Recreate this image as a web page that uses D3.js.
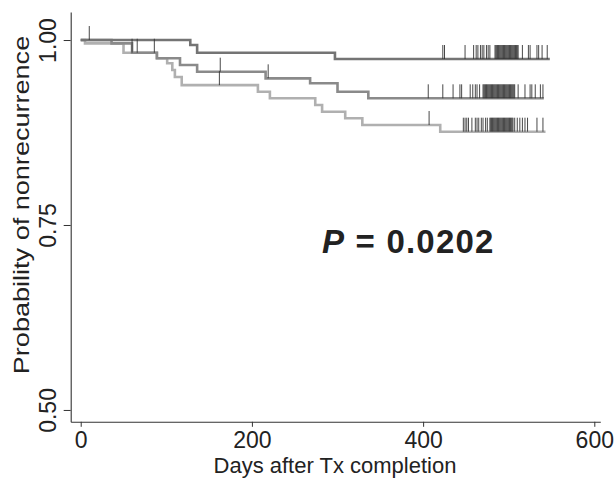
<!DOCTYPE html>
<html><head><meta charset="utf-8">
<script src="https://cdn.jsdelivr.net/npm/d3@7"></script>
<style>body{margin:0;background:#fff}svg{display:block}</style>
</head><body>
<svg id="c" width="615" height="481"></svg>
<script>
// ---- data (days, survival probability) ----
const xTicks = [0, 200, 400, 600];
const yTicks = [0.50, 0.75, 1.00];
const pLabel = "0.0202";

// step curves: event day -> survival after event
const topTimes = [0, 128, 136, 297];
const topSurv  = [1.0, 0.9932, 0.9828, 0.9743];
const topEnd = 548;

const midTimes = [0, 36, 60, 89, 116, 136, 216, 268, 300, 336];
const midSurv  = [1.0, 0.9955, 0.9828, 0.9753, 0.9662, 0.9572, 0.9482, 0.9415, 0.9301, 0.9212];
const midEnd = 541;

const lowTimes = [0, 5, 50, 89, 101, 107, 110, 118, 207, 221, 274, 282, 309, 329, 420];
const lowSurv  = [1.0, 0.9955, 0.9828, 0.9753, 0.9685, 0.9595, 0.9500, 0.9390, 0.9301, 0.9212, 0.9122, 0.9031, 0.8942, 0.8851, 0.8761];
const lowEnd = 543;

// censored observation days
const topCensor = [10, 423, 425, 449, 459, 462, 464, 467, 469, 471, 474, 476, 478,
  484, 485, 486, 487, 488, 489, 490, 491, 492, 493, 494, 495, 496, 497, 498, 499, 500,
  501, 502, 503, 504, 505, 506, 507, 508, 509, 510, 511, 516, 523, 525, 533, 535, 539, 545];
const midCensor = [60, 66, 86, 163, 219, 406, 423, 435, 443, 445, 455, 458, 461, 463, 466,
  470, 471, 472, 473, 474, 475, 476, 477, 478, 479, 480, 481, 482, 483, 484, 485, 486, 487,
  488, 489, 490, 491, 492, 493, 494, 495, 496, 497, 498, 499, 500, 501, 502, 503, 504, 505,
  506, 507, 511, 519, 525, 527, 531, 537, 540];
const lowCensor = [162, 407, 447, 449, 451, 453, 457, 461, 463, 465, 468, 470, 473, 475,
  478, 479, 480, 481, 482, 483, 484, 485, 486, 487, 488, 489, 490, 491, 492, 493, 494, 495,
  496, 497, 498, 499, 500, 501, 502, 503, 504, 505, 507, 510, 513, 516, 519, 522, 533, 540];

const series = [
  {times: lowTimes, surv: lowSurv, end: lowEnd, censor: lowCensor, color: "#b0b0b0"},
  {times: midTimes, surv: midSurv, end: midEnd, censor: midCensor, color: "#8a8a8a"},
  {times: topTimes, surv: topSurv, end: topEnd, censor: topCensor, color: "#747474"}
];

// ---- drawing ----
const svg = d3.select("#c");
const font = "'Liberation Sans', Arial, Helvetica, sans-serif";

const x = d3.scaleLinear().domain([-11.7, 607]).range([70.7, 600.3]);
const y = d3.scaleLinear().domain([0.484, 1.038]).range([421.8, 11.9]);

// axes
const yAxis = svg.append("g").attr("transform", `translate(${x(-11.7)},0)`)
  .call(d3.axisLeft(y).tickValues(yTicks).tickFormat(d3.format(".2f")).tickSize(7).tickSizeOuter(0));
yAxis.select(".domain").attr("stroke", "#333").attr("stroke-width", 1.1);
yAxis.selectAll(".tick line").attr("stroke", "#333");
yAxis.selectAll(".tick text")
  .attr("font-family", font).attr("font-size", 23).attr("fill", "#222")
  .attr("transform", "rotate(-90)")
  .attr("x", 0).attr("y", -15).attr("dy", 0)
  .attr("text-anchor", "middle");

const xAxis = svg.append("g").attr("transform", `translate(0,${y(0.484)})`)
  .call(d3.axisBottom(x).tickValues(xTicks).tickFormat(d3.format("d")).tickSize(5).tickSizeOuter(0));
xAxis.select(".domain").attr("stroke", "#333").attr("stroke-width", 1.1);
xAxis.selectAll(".tick line").attr("stroke", "#333");
xAxis.selectAll(".tick text")
  .attr("font-family", font).attr("font-size", 23).attr("fill", "#222")
  .attr("y", 26).attr("dy", 0);

// axis titles
svg.append("text").attr("x", 335).attr("y", 473)
  .attr("text-anchor", "middle").attr("font-family", font).attr("font-size", 22).attr("fill", "#222")
  .text("Days after Tx completion");
svg.append("text").attr("transform", "translate(29,205) rotate(-90) scale(1.23,1)")
  .attr("text-anchor", "middle").attr("font-family", font).attr("font-size", 22).attr("fill", "#222")
  .text("Probability of nonrecurrence");

// curves
const line = d3.line().x(d => x(d[0])).y(d => y(d[1])).curve(d3.curveStepAfter);
function survAt(s, t) {
  let v = s.surv[0];
  for (let i = 0; i < s.times.length; i++) if (s.times[i] <= t) v = s.surv[i];
  return v;
}
series.forEach(s => {
  const pts = s.times.map((t, i) => [t, s.surv[i]]);
  pts.push([s.end, s.surv[s.surv.length - 1]]);
  svg.append("path").attr("d", line(pts)).attr("fill", "none")
    .attr("stroke", s.color).attr("stroke-width", 2.6);
});
series.forEach(s => {
  svg.append("g").selectAll("line").data(s.censor).join("line")
    .attr("x1", d => x(d)).attr("x2", d => x(d))
    .attr("y1", d => y(survAt(s, d))).attr("y2", d => y(survAt(s, d)) - 14)
    .attr("stroke", "#333").attr("stroke-width", 0.9);
});

// P value
const pt = svg.append("text").attr("x", 322).attr("y", 253)
  .attr("font-family", font).attr("font-size", 33).attr("font-weight", "bold")
  .attr("letter-spacing", 1.2).attr("fill", "#222");
pt.append("tspan").attr("font-style", "italic").text("P");
pt.append("tspan").text(" = " + pLabel);
</script>
</body></html>
